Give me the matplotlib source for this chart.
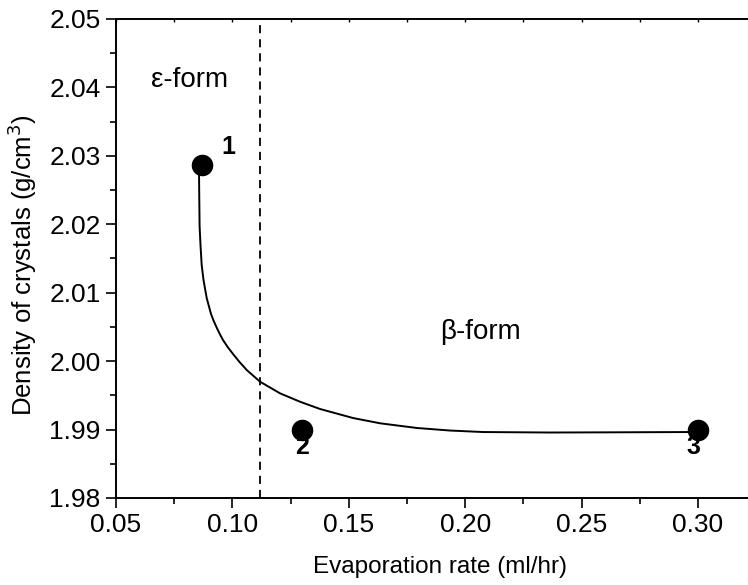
import matplotlib
matplotlib.use("Agg")
import matplotlib.pyplot as plt
from matplotlib.ticker import MultipleLocator, FormatStrFormatter

plt.rcParams['font.family'] = ['Liberation Sans', 'DejaVu Sans']

# measured data points
pt_x = [0.087, 0.130, 0.300]
pt_y = [2.0286, 1.9900, 1.9900]
pt_labels = ['1', '2', '3']
label_x = [0.0981, 0.1298, 0.2979]
label_y = [2.0313, 1.9875, 1.98745]

# fitted curve
curve_x = [0.08565, 0.08578, 0.08591, 0.08630, 0.08681, 0.08759, 0.08896, 0.09081,
           0.09200, 0.09326, 0.09460, 0.09596, 0.09800, 0.10026, 0.10300, 0.10614,
           0.11186, 0.12045, 0.12904, 0.13763, 0.15180, 0.16340, 0.17930, 0.19347,
           0.20765, 0.23643, 0.26500, 0.29656]
curve_y = [2.02793, 2.02355, 2.01975, 2.01697, 2.01405, 2.01186, 2.00923, 2.00689,
           2.00585, 2.00490, 2.00395, 2.00309, 2.00205, 2.00105, 1.99990, 1.99871,
           1.99700, 1.99530, 1.99407, 1.99301, 1.99169, 1.99092, 1.99023, 1.98986,
           1.98964, 1.98957, 1.98960, 1.98964]

boundary_x = 0.112

fig = plt.figure(figsize=(7.48, 5.85), dpi=100)
ax = fig.add_axes([116/748, 1 - 498/585, 1 - 116/748, (498 - 19)/585])

ax.plot(curve_x, curve_y, color='black', lw=1.4, zorder=2,
        solid_joinstyle='round')
ax.plot(pt_x, pt_y, 'o', color='black', ms=14.5, zorder=3)
ax.axvline(boundary_x, color='black', lw=1.3, ls=(0, (4.5, 3.3)), zorder=1)

for x, y, s in zip(label_x, label_y, pt_labels):
    ax.text(x, y, s, fontsize=18, fontweight='bold', ha='center', va='center', zorder=4)

ax.text(0.0818, 2.0411, 'ε-form', fontsize=20, ha='center', va='center')
ax.text(0.2064, 2.0043, 'β-form', fontsize=20, ha='center', va='center')

ax.set_xlim(0.05, 0.3215)
ax.set_ylim(1.98, 2.05)
ax.xaxis.set_major_locator(MultipleLocator(0.05))
ax.xaxis.set_minor_locator(MultipleLocator(0.025))
ax.yaxis.set_major_locator(MultipleLocator(0.01))
ax.yaxis.set_minor_locator(MultipleLocator(0.005))
ax.xaxis.set_major_formatter(FormatStrFormatter('%.2f'))
ax.yaxis.set_major_formatter(FormatStrFormatter('%.2f'))

ax.spines['right'].set_visible(False)
for sp in ['left', 'bottom', 'top']:
    ax.spines[sp].set_linewidth(1.4)

ax.tick_params(axis='both', which='major', direction='out', length=7, width=1.2,
               labelsize=19, pad=4)
ax.tick_params(axis='both', which='minor', direction='out', length=4, width=1.2)

# tiny inward ticks on the top spine
top = ax.secondary_xaxis('top')
top.xaxis.set_major_locator(MultipleLocator(0.025))
top.tick_params(direction='in', length=2, width=1.0, labeltop=False)
top.spines['top'].set_visible(False)

fig.text(440/748, 1 - 567/585, 'Evaporation rate (ml/hr)', fontsize=17.5,
         ha='center', va='center')
fig.text(22/748, 1 - 265/585, 'Density of crystals (g/cm$^3$)', fontsize=18.5,
         ha='center', va='center', rotation=90)

fig.savefig('out.png', dpi=100)
